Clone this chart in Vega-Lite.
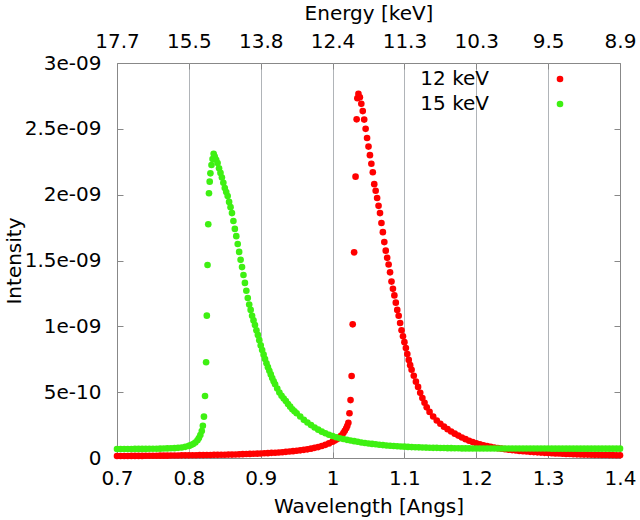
{
  "$schema": "https://vega.github.io/schema/vega-lite/v6.json",
  "width": 503,
  "height": 395,
  "autosize": {"type": "none"},
  "padding": {"left": 117, "top": 63, "right": 20, "bottom": 62},
  "background": "white",
  "config": {
    "font": "DejaVu Sans",
    "view": {"stroke": "#888888", "strokeWidth": 1},
    "axis": {
      "labelFont": "DejaVu Sans", "labelFontSize": 20, "labelColor": "#000000",
      "titleFont": "DejaVu Sans", "titleFontSize": 20, "titleFontWeight": "normal", "titleColor": "#000000",
      "domain": false, "tickColor": "#888888", "tickSize": -6, "tickWidth": 1, "grid": false,
      "labelFlush": false, "labelOverlap": false
    },
    "legend": {
      "labelFont": "DejaVu Sans", "labelFontSize": 20, "labelColor": "#000000"
    }
  },
  "datasets": {
    "r": [
      {"w":0.700,"i":0.015e-9},{"w":0.705,"i":0.015e-9},{"w":0.710,"i":0.015e-9},{"w":0.715,"i":0.015e-9},
      {"w":0.720,"i":0.016e-9},{"w":0.725,"i":0.016e-9},{"w":0.730,"i":0.016e-9},{"w":0.735,"i":0.016e-9},
      {"w":0.740,"i":0.017e-9},{"w":0.745,"i":0.017e-9},{"w":0.750,"i":0.017e-9},{"w":0.755,"i":0.017e-9},
      {"w":0.760,"i":0.018e-9},{"w":0.765,"i":0.018e-9},{"w":0.770,"i":0.018e-9},{"w":0.775,"i":0.019e-9},
      {"w":0.780,"i":0.019e-9},{"w":0.785,"i":0.019e-9},{"w":0.790,"i":0.020e-9},{"w":0.795,"i":0.020e-9},
      {"w":0.800,"i":0.020e-9},{"w":0.805,"i":0.021e-9},{"w":0.810,"i":0.021e-9},{"w":0.815,"i":0.022e-9},
      {"w":0.820,"i":0.022e-9},{"w":0.825,"i":0.023e-9},{"w":0.830,"i":0.023e-9},{"w":0.835,"i":0.024e-9},
      {"w":0.840,"i":0.024e-9},{"w":0.845,"i":0.025e-9},{"w":0.850,"i":0.025e-9},{"w":0.855,"i":0.026e-9},
      {"w":0.860,"i":0.026e-9},{"w":0.865,"i":0.027e-9},{"w":0.870,"i":0.028e-9},{"w":0.875,"i":0.029e-9},
      {"w":0.880,"i":0.030e-9},{"w":0.885,"i":0.031e-9},{"w":0.890,"i":0.032e-9},{"w":0.895,"i":0.033e-9},
      {"w":0.900,"i":0.034e-9},{"w":0.905,"i":0.036e-9},{"w":0.910,"i":0.037e-9},{"w":0.915,"i":0.039e-9},
      {"w":0.920,"i":0.040e-9},{"w":0.925,"i":0.042e-9},{"w":0.930,"i":0.044e-9},{"w":0.935,"i":0.047e-9},
      {"w":0.940,"i":0.049e-9},{"w":0.945,"i":0.052e-9},{"w":0.950,"i":0.055e-9},{"w":0.955,"i":0.058e-9},
      {"w":0.960,"i":0.062e-9},{"w":0.965,"i":0.066e-9},{"w":0.970,"i":0.071e-9},{"w":0.975,"i":0.077e-9},
      {"w":0.980,"i":0.083e-9},{"w":0.985,"i":0.091e-9},{"w":0.990,"i":0.100e-9},{"w":0.995,"i":0.111e-9},
      {"w":1.000,"i":0.124e-9},{"w":1.003,"i":0.133e-9},{"w":1.006,"i":0.143e-9},{"w":1.009,"i":0.155e-9},
      {"w":1.012,"i":0.170e-9},{"w":1.015,"i":0.190e-9},{"w":1.017,"i":0.207e-9},{"w":1.019,"i":0.226e-9},
      {"w":1.0205,"i":0.245e-9},{"w":1.022,"i":0.268e-9},{"w":1.0235,"i":0.340e-9},{"w":1.025,"i":0.440e-9},
      {"w":1.0265,"i":0.623e-9},{"w":1.028,"i":1.015e-9},{"w":1.030,"i":1.562e-9},{"w":1.032,"i":2.137e-9},
      {"w":1.0335,"i":2.572e-9},{"w":1.0345,"i":2.732e-9},{"w":1.036,"i":2.765e-9},{"w":1.038,"i":2.740e-9},
      {"w":1.040,"i":2.690e-9},{"w":1.042,"i":2.635e-9},{"w":1.044,"i":2.570e-9},{"w":1.046,"i":2.500e-9},
      {"w":1.048,"i":2.430e-9},{"w":1.050,"i":2.365e-9},{"w":1.052,"i":2.300e-9},{"w":1.054,"i":2.235e-9},
      {"w":1.056,"i":2.170e-9},{"w":1.058,"i":2.080e-9},{"w":1.060,"i":2.030e-9},{"w":1.062,"i":1.975e-9},
      {"w":1.064,"i":1.915e-9},{"w":1.066,"i":1.860e-9},{"w":1.068,"i":1.785e-9},{"w":1.070,"i":1.715e-9},
      {"w":1.072,"i":1.640e-9},{"w":1.074,"i":1.575e-9},{"w":1.076,"i":1.520e-9},{"w":1.078,"i":1.470e-9},
      {"w":1.080,"i":1.410e-9},{"w":1.082,"i":1.340e-9},{"w":1.084,"i":1.285e-9},{"w":1.086,"i":1.235e-9},
      {"w":1.088,"i":1.180e-9},{"w":1.090,"i":1.125e-9},{"w":1.092,"i":1.080e-9},{"w":1.094,"i":1.025e-9},
      {"w":1.096,"i":0.970e-9},{"w":1.098,"i":0.925e-9},{"w":1.100,"i":0.880e-9},{"w":1.102,"i":0.835e-9},
      {"w":1.104,"i":0.790e-9},{"w":1.106,"i":0.745e-9},{"w":1.108,"i":0.705e-9},{"w":1.110,"i":0.670e-9},
      {"w":1.113,"i":0.625e-9},{"w":1.116,"i":0.580e-9},{"w":1.119,"i":0.540e-9},{"w":1.122,"i":0.495e-9},
      {"w":1.125,"i":0.455e-9},{"w":1.128,"i":0.420e-9},{"w":1.131,"i":0.385e-9},{"w":1.135,"i":0.350e-9},
      {"w":1.140,"i":0.315e-9},{"w":1.145,"i":0.285e-9},{"w":1.150,"i":0.260e-9},{"w":1.155,"i":0.238e-9},
      {"w":1.160,"i":0.219e-9},{"w":1.165,"i":0.201e-9},{"w":1.170,"i":0.185e-9},{"w":1.175,"i":0.170e-9},
      {"w":1.180,"i":0.156e-9},{"w":1.185,"i":0.143e-9},{"w":1.190,"i":0.131e-9},{"w":1.195,"i":0.121e-9},
      {"w":1.200,"i":0.112e-9},{"w":1.205,"i":0.104e-9},{"w":1.210,"i":0.097e-9},{"w":1.215,"i":0.091e-9},
      {"w":1.220,"i":0.085e-9},{"w":1.225,"i":0.080e-9},{"w":1.230,"i":0.075e-9},{"w":1.235,"i":0.071e-9},
      {"w":1.240,"i":0.067e-9},{"w":1.245,"i":0.063e-9},{"w":1.250,"i":0.060e-9},{"w":1.255,"i":0.057e-9},
      {"w":1.260,"i":0.054e-9},{"w":1.265,"i":0.052e-9},{"w":1.270,"i":0.049e-9},{"w":1.275,"i":0.047e-9},
      {"w":1.280,"i":0.045e-9},{"w":1.285,"i":0.043e-9},{"w":1.290,"i":0.041e-9},{"w":1.295,"i":0.039e-9},
      {"w":1.300,"i":0.038e-9},{"w":1.305,"i":0.036e-9},{"w":1.310,"i":0.035e-9},{"w":1.315,"i":0.034e-9},
      {"w":1.320,"i":0.032e-9},{"w":1.325,"i":0.031e-9},{"w":1.330,"i":0.030e-9},{"w":1.335,"i":0.029e-9},
      {"w":1.340,"i":0.028e-9},{"w":1.345,"i":0.027e-9},{"w":1.350,"i":0.026e-9},{"w":1.355,"i":0.026e-9},
      {"w":1.360,"i":0.025e-9},{"w":1.365,"i":0.024e-9},{"w":1.370,"i":0.024e-9},{"w":1.375,"i":0.023e-9},
      {"w":1.380,"i":0.023e-9},{"w":1.385,"i":0.022e-9},{"w":1.390,"i":0.022e-9},{"w":1.395,"i":0.021e-9},
      {"w":1.400,"i":0.021e-9}
    ],
    "g": [
      {"w":0.700,"i":0.068e-9},{"w":0.705,"i":0.068e-9},{"w":0.710,"i":0.068e-9},{"w":0.715,"i":0.068e-9},
      {"w":0.720,"i":0.068e-9},{"w":0.725,"i":0.069e-9},{"w":0.730,"i":0.069e-9},{"w":0.735,"i":0.069e-9},
      {"w":0.740,"i":0.069e-9},{"w":0.745,"i":0.070e-9},{"w":0.750,"i":0.070e-9},{"w":0.755,"i":0.070e-9},
      {"w":0.760,"i":0.071e-9},{"w":0.765,"i":0.072e-9},{"w":0.770,"i":0.073e-9},{"w":0.775,"i":0.074e-9},
      {"w":0.780,"i":0.075e-9},{"w":0.785,"i":0.077e-9},{"w":0.790,"i":0.080e-9},{"w":0.795,"i":0.085e-9},
      {"w":0.800,"i":0.092e-9},{"w":0.803,"i":0.098e-9},{"w":0.806,"i":0.106e-9},{"w":0.809,"i":0.118e-9},
      {"w":0.812,"i":0.135e-9},{"w":0.814,"i":0.152e-9},{"w":0.816,"i":0.175e-9},{"w":0.818,"i":0.205e-9},
      {"w":0.8195,"i":0.245e-9},{"w":0.821,"i":0.314e-9},{"w":0.8225,"i":0.471e-9},{"w":0.824,"i":0.727e-9},
      {"w":0.825,"i":1.081e-9},{"w":0.826,"i":1.466e-9},{"w":0.827,"i":1.775e-9},{"w":0.828,"i":2.011e-9},
      {"w":0.829,"i":2.099e-9},{"w":0.830,"i":2.162e-9},{"w":0.8315,"i":2.225e-9},{"w":0.833,"i":2.270e-9},
      {"w":0.8345,"i":2.310e-9},{"w":0.836,"i":2.290e-9},{"w":0.838,"i":2.265e-9},{"w":0.840,"i":2.240e-9},
      {"w":0.842,"i":2.200e-9},{"w":0.844,"i":2.165e-9},{"w":0.846,"i":2.130e-9},{"w":0.848,"i":2.090e-9},
      {"w":0.850,"i":2.050e-9},{"w":0.852,"i":2.020e-9},{"w":0.854,"i":1.990e-9},{"w":0.856,"i":1.945e-9},
      {"w":0.858,"i":1.905e-9},{"w":0.860,"i":1.860e-9},{"w":0.862,"i":1.800e-9},{"w":0.864,"i":1.740e-9},
      {"w":0.866,"i":1.685e-9},{"w":0.868,"i":1.625e-9},{"w":0.870,"i":1.565e-9},{"w":0.872,"i":1.505e-9},
      {"w":0.874,"i":1.450e-9},{"w":0.876,"i":1.390e-9},{"w":0.878,"i":1.330e-9},{"w":0.880,"i":1.270e-9},
      {"w":0.882,"i":1.215e-9},{"w":0.884,"i":1.165e-9},{"w":0.886,"i":1.125e-9},{"w":0.888,"i":1.080e-9},
      {"w":0.890,"i":1.045e-9},{"w":0.892,"i":1.010e-9},{"w":0.894,"i":0.970e-9},{"w":0.896,"i":0.935e-9},
      {"w":0.898,"i":0.895e-9},{"w":0.900,"i":0.855e-9},{"w":0.902,"i":0.820e-9},{"w":0.904,"i":0.785e-9},
      {"w":0.906,"i":0.752e-9},{"w":0.908,"i":0.720e-9},{"w":0.910,"i":0.690e-9},{"w":0.912,"i":0.662e-9},
      {"w":0.914,"i":0.635e-9},{"w":0.916,"i":0.608e-9},{"w":0.918,"i":0.583e-9},{"w":0.920,"i":0.560e-9},
      {"w":0.923,"i":0.527e-9},{"w":0.926,"i":0.497e-9},{"w":0.929,"i":0.472e-9},{"w":0.932,"i":0.452e-9},
      {"w":0.935,"i":0.432e-9},{"w":0.938,"i":0.410e-9},{"w":0.941,"i":0.390e-9},{"w":0.944,"i":0.370e-9},
      {"w":0.947,"i":0.355e-9},{"w":0.950,"i":0.340e-9},{"w":0.955,"i":0.315e-9},{"w":0.960,"i":0.290e-9},
      {"w":0.965,"i":0.270e-9},{"w":0.970,"i":0.250e-9},{"w":0.975,"i":0.232e-9},{"w":0.980,"i":0.215e-9},
      {"w":0.985,"i":0.200e-9},{"w":0.990,"i":0.188e-9},{"w":0.995,"i":0.177e-9},{"w":1.000,"i":0.167e-9},
      {"w":1.005,"i":0.158e-9},{"w":1.010,"i":0.150e-9},{"w":1.015,"i":0.144e-9},{"w":1.020,"i":0.138e-9},
      {"w":1.025,"i":0.133e-9},{"w":1.030,"i":0.128e-9},{"w":1.035,"i":0.123e-9},{"w":1.040,"i":0.118e-9},
      {"w":1.045,"i":0.114e-9},{"w":1.050,"i":0.110e-9},{"w":1.055,"i":0.107e-9},{"w":1.060,"i":0.104e-9},
      {"w":1.065,"i":0.101e-9},{"w":1.070,"i":0.098e-9},{"w":1.075,"i":0.095e-9},{"w":1.080,"i":0.093e-9},
      {"w":1.085,"i":0.091e-9},{"w":1.090,"i":0.089e-9},{"w":1.095,"i":0.087e-9},{"w":1.100,"i":0.086e-9},
      {"w":1.105,"i":0.084e-9},{"w":1.110,"i":0.083e-9},{"w":1.115,"i":0.082e-9},{"w":1.120,"i":0.081e-9},
      {"w":1.125,"i":0.080e-9},{"w":1.130,"i":0.079e-9},{"w":1.135,"i":0.078e-9},{"w":1.140,"i":0.077e-9},
      {"w":1.145,"i":0.077e-9},{"w":1.150,"i":0.076e-9},{"w":1.155,"i":0.076e-9},{"w":1.160,"i":0.075e-9},
      {"w":1.165,"i":0.075e-9},{"w":1.170,"i":0.074e-9},{"w":1.175,"i":0.074e-9},{"w":1.180,"i":0.073e-9},
      {"w":1.185,"i":0.073e-9},{"w":1.190,"i":0.073e-9},{"w":1.195,"i":0.072e-9},{"w":1.200,"i":0.072e-9},
      {"w":1.205,"i":0.072e-9},{"w":1.210,"i":0.072e-9},{"w":1.215,"i":0.072e-9},{"w":1.220,"i":0.072e-9},
      {"w":1.225,"i":0.072e-9},{"w":1.230,"i":0.072e-9},{"w":1.235,"i":0.072e-9},{"w":1.240,"i":0.072e-9},
      {"w":1.245,"i":0.072e-9},{"w":1.250,"i":0.072e-9},{"w":1.255,"i":0.072e-9},{"w":1.260,"i":0.072e-9},
      {"w":1.265,"i":0.072e-9},{"w":1.270,"i":0.072e-9},{"w":1.275,"i":0.072e-9},{"w":1.280,"i":0.072e-9},
      {"w":1.285,"i":0.072e-9},{"w":1.290,"i":0.072e-9},{"w":1.295,"i":0.072e-9},{"w":1.300,"i":0.072e-9},
      {"w":1.305,"i":0.071e-9},{"w":1.310,"i":0.071e-9},{"w":1.315,"i":0.071e-9},{"w":1.320,"i":0.071e-9},
      {"w":1.325,"i":0.071e-9},{"w":1.330,"i":0.071e-9},{"w":1.335,"i":0.071e-9},{"w":1.340,"i":0.071e-9},
      {"w":1.345,"i":0.071e-9},{"w":1.350,"i":0.071e-9},{"w":1.355,"i":0.071e-9},{"w":1.360,"i":0.071e-9},
      {"w":1.365,"i":0.071e-9},{"w":1.370,"i":0.071e-9},{"w":1.375,"i":0.071e-9},{"w":1.380,"i":0.071e-9},
      {"w":1.385,"i":0.071e-9},{"w":1.390,"i":0.071e-9},{"w":1.395,"i":0.071e-9},{"w":1.400,"i":0.071e-9}
    ]
  },
  "layer": [
    {
      "data": {"name": "r"},
      "mark": {"type": "circle", "size": 44, "opacity": 1},
      "encoding": {
        "x": {
          "field": "w", "type": "quantitative",
          "scale": {"domain": [0.7, 1.4], "nice": false, "zero": false},
          "axis": {
            "orient": "bottom", "title": "Wavelength [Angs]",
            "values": [0.7, 0.8, 0.9, 1.0, 1.1, 1.2, 1.3, 1.4],
            "labelExpr": "format(datum.value, '~g')",
            "labelPadding": 16, "titlePadding": 8,
            "grid": true, "gridColor": "#b0b4b8", "gridWidth": 1,
            "gridOpacity": {"condition": {"test": "datum.value < 0.75 || datum.value > 1.35", "value": 0}, "value": 1}
          }
        },
        "y": {
          "field": "i", "type": "quantitative",
          "scale": {"domain": [0, 3e-9], "nice": false, "zero": false},
          "axis": {
            "orient": "left", "title": "Intensity",
            "values": [0, 5e-10, 1e-9, 1.5e-9, 2e-9, 2.5e-9, 3e-9],
            "labelExpr": "datum.value == 0 ? '0' : (datum.value >= 1e-9 ? format(datum.value * 1e9, '~g') + 'e-09' : format(datum.value * 1e10, '~g') + 'e-10')",
            "labelPadding": 22, "titlePadding": 0
          }
        },
        "color": {
          "datum": "12 keV", "type": "nominal",
          "scale": {"domain": ["12 keV", "15 keV"], "range": ["#ff0000", "#3ef012"]},
          "legend": {
            "title": null, "orient": "none", "legendX": 433, "legendY": 6,
            "symbolType": "circle", "symbolSize": 44, "symbolStrokeWidth": 0,
            "labelAlign": "right", "labelOffset": -81, "rowPadding": 5, "padding": 0
          }
        }
      }
    },
    {
      "data": {"name": "g"},
      "mark": {"type": "circle", "size": 44, "opacity": 1},
      "encoding": {
        "x": {
          "field": "w", "type": "quantitative",
          "axis": {
            "orient": "top", "title": "Energy [keV]",
            "values": [0.7, 0.8, 0.9, 1.0, 1.1, 1.2, 1.3, 1.4],
            "labelExpr": "format(12.398 / datum.value, '.1f')",
            "labelPadding": 18, "titlePadding": 8
          }
        },
        "y": {
          "field": "i", "type": "quantitative",
          "axis": {
            "orient": "right", "title": null, "labels": false,
            "values": [0, 5e-10, 1e-9, 1.5e-9, 2e-9, 2.5e-9, 3e-9]
          }
        },
        "color": {"datum": "15 keV", "type": "nominal"}
      }
    }
  ],
  "resolve": {"axis": {"x": "independent", "y": "independent"}}
}
